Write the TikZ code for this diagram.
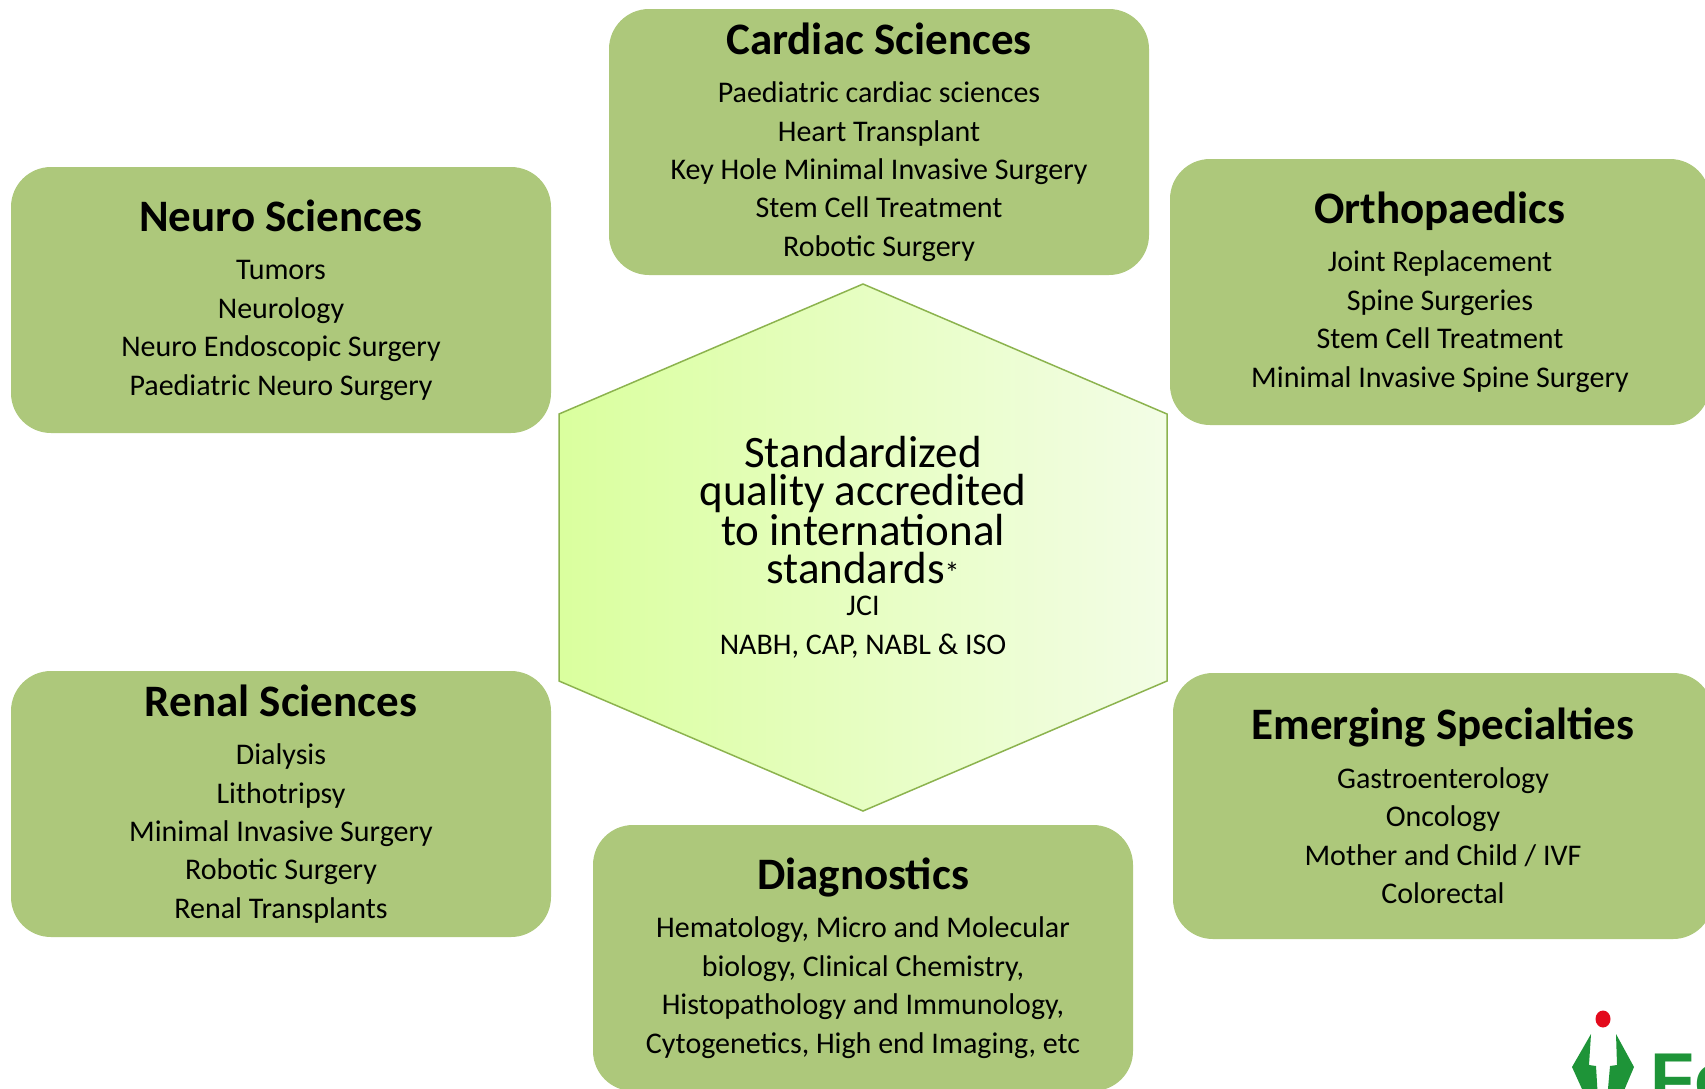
\documentclass[tikz,border=0pt]{standalone}
\usepackage{fontspec}
\setmainfont{Carlito}
\newfontfamily\logofont{Liberation Sans}
\definecolor{boxgreen}{HTML}{ADC87B}
\definecolor{hexline}{HTML}{8CB34E}
\definecolor{hexleft}{HTML}{DAFF9E}
\definecolor{hexright}{HTML}{F3FDE6}
\definecolor{logogreen}{HTML}{1E9438}
\definecolor{logored}{HTML}{E30A1C}
\newcommand{\bodysize}{\fontsize{30}{38.4}\selectfont}
\newcommand{\headsize}{\fontsize{45}{38.4}\selectfont\bfseries}
\newcommand{\hexsize}{\fontsize{45}{58}\selectfont}
\tikzset{
    specbox/.style={fill=boxgreen,rounded corners=40pt,minimum width=540pt,minimum height=266pt,
        align=center,font=\bodysize,inner sep=0pt},
}
\begin{document}
\begin{tikzpicture}[x=1pt,y=-1pt]
    \useasboundingbox (0,0) rectangle (1705,1088);
    \node[specbox] (cardiac) at (879,142) {{\headsize Cardiac Sciences}\\[10pt]Paediatric cardiac sciences\\Heart Transplant\\Key Hole Minimal Invasive Surgery\\Stem Cell Treatment\\Robotic Surgery};
    \node[specbox] (neuro) at (281,300) {{\headsize Neuro Sciences}\\[10pt]Tumors\\Neurology\\Neuro Endoscopic Surgery\\Paediatric Neuro Surgery};
    \node[specbox] (ortho) at (1440,292) {{\headsize Orthopaedics}\\[10pt]Joint Replacement\\Spine Surgeries\\Stem Cell Treatment\\Minimal Invasive Spine Surgery};
    \node[specbox] (renal) at (281,804) {{\headsize Renal Sciences}\\[10pt]Dialysis\\Lithotripsy\\Minimal Invasive Surgery\\Robotic Surgery\\Renal Transplants};
    \node[specbox] (emerging) at (1443,806) {{\headsize Emerging Specialties}\\[10pt]Gastroenterology\\Oncology\\Mother and Child / IVF\\Colorectal};
    \node[specbox] (diagnostics) at (863,958) {{\headsize Diagnostics}\\[10pt]Hematology, Micro and Molecular\\biology, Clinical Chemistry,\\Histopathology and Immunology,\\Cytogenetics, High end Imaging, etc};
    % centre
    \draw[hexline,line width=1.5pt,left color=hexleft,right color=hexright] (863,284) -- (1167,414) -- (1167,681) -- (863,811) -- (559,681) -- (559,414) -- cycle;
    \node[align=center,inner sep=0pt,font=\bodysize] (quality) at (863,547) {\hexsize Standardized\\\hexsize quality accredited\\\hexsize to international\\\hexsize standards{\fontsize{30}{38.4}\selectfont*}\\[-6pt]\bodysize JCI\\NABH, CAP, NABL \& ISO};
    % logo
    \begin{scope}
        \clip (0,0) rectangle (1705,1088);
        \fill[logored] (1603,1019) ellipse (7.5 and 8.5);
        \fill[logogreen] (1591,1034) -- (1572,1067) -- (1587,1100) -- (1598,1100) -- (1596,1066) -- (1589,1065) -- cycle;
        \fill[logogreen] (1616,1034) -- (1634,1067) -- (1620,1100) -- (1607,1100) -- (1610,1066) -- (1617,1065) -- cycle;
        \node[logogreen,anchor=base west,inner sep=0pt,font=\logofont\fontsize{72}{72}\selectfont\bfseries] (fortis) at (1650,1103) {Fo};
    \end{scope}
\end{tikzpicture}
\end{document}
